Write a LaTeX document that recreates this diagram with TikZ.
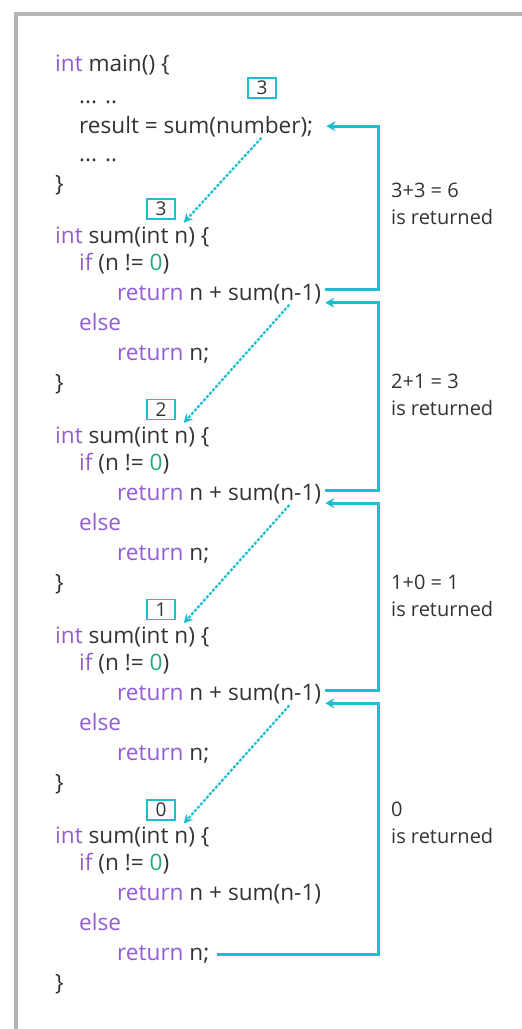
\documentclass[tikz,border=0pt]{standalone}
\usepackage{fontspec}
\setmainfont{Open Sans}
\usetikzlibrary{arrows.meta, positioning, calc}
\definecolor{cKey}{RGB}{145,92,214}
\definecolor{cNum}{RGB}{38,168,118}
\definecolor{cText}{RGB}{51,51,51}
\definecolor{cCyan}{RGB}{30,190,206}
\definecolor{cFrame}{RGB}{180,180,180}
\newcommand{\kw}[1]{\textcolor{cKey}{#1}}
\newcommand{\nm}[1]{\textcolor{cNum}{#1}}
\tikzset{
	code/.style     ={anchor=base west, inner sep=1pt, text=cText, font=\fontsize{22.6}{26}\selectfont},
	valbox/.style   ={rectangle, draw=cCyan, line width=1.4pt, minimum width=28pt, minimum height=20pt, inner sep=0pt, text=cText, font=\fontsize{19}{20}\selectfont},
	callarrow/.style={cCyan, line width=2.2pt, dash pattern=on 3pt off 1.5pt, -{Stealth[length=9pt,width=9pt]}},
	retarrow/.style ={cCyan, line width=3pt, -{Stealth[length=9pt,width=10pt]}},
	note/.style     ={anchor=west, align=left, inner sep=0pt, text=cText, font=\fontsize{20}{27}\selectfont},
}

\begin{document}
\begin{tikzpicture}[x=1pt,y=-1pt]
	\useasboundingbox (0,0) rectangle (522,1029);
	\draw[cFrame, line width=4pt] (16,1035) -- (16,14) -- (530,14);
	% main
	\node[code] (m1) at (54,71) {\kw{int} main() \{};
	\node[code] (m2) at (78,103) {... ..};
	\node[code] (res) at (78,133) {result = sum(number);};
	\node[code] (m4) at (78,161) {... ..};
	\node[code] (m5) at (54,191) {\}};
	\node[valbox] (b0) at (262,88) {3};
	% recursive calls
	\foreach \v [count=\j] in {3,2,1,0}{
		\pgfmathsetmacro{\yy}{235+200.3*(\j-1)}
		\node[valbox] (b\j) at (161,\yy-26) {\v};
		\node[code] (h\j) at (54,\yy+8) {\kw{int} sum(int n) \{};
		\node[code] (if\j) at (78,\yy+35) {\kw{if} (n != \nm{0})};
		\node[code] (rs\j) at (116,\yy+65) {\kw{return} n + sum(n-1)};
		\node[code] (el\j) at (78,\yy+95) {\kw{else}};
		\node[code] (rn\j) at (116,\yy+125) {\kw{return} n;};
		\node[code] (c\j) at (54,\yy+155) {\}};
		\coordinate (out\j) at ([xshift=3pt,yshift=4pt]rs\j.east);
		\coordinate (in\j) at ([xshift=3pt,yshift=-9pt]rs\j.east);
	}
	\coordinate (rail) at (378,0);
	% calls
	\draw[callarrow] ([xshift=-53pt]res.south east) -- ([xshift=8pt,yshift=-3pt]b1.south east);
	\draw[callarrow] ([xshift=-33pt]rs1.south east) -- ([xshift=8pt,yshift=-3pt]b2.south east);
	\draw[callarrow] ([xshift=-33pt]rs2.south east) -- ([xshift=8pt,yshift=-3pt]b3.south east);
	\draw[callarrow] ([xshift=-33pt]rs3.south east) -- ([xshift=8pt,yshift=-3pt]b4.south east);
	% returns
	\draw[retarrow] (out1) -| (rail |- res.east) -- ([xshift=12pt]res.east);
	\draw[retarrow] (out2) -| (rail |- in1) -- (in1);
	\draw[retarrow] (out3) -| (rail |- in2) -- (in2);
	\draw[retarrow] ([xshift=6pt]rn4.east) -| (rail |- in3) -- (in3);
	\node[note] (r1) at (391,204) {3+3 = 6\\is returned};
	\node[note] (r2) at (391,395) {2+1 = 3\\is returned};
	\node[note] (r3) at (391,596) {1+0 = 1\\is returned};
	\node[note] (r4) at (391,823) {0\\is returned};
\end{tikzpicture}
\end{document}
